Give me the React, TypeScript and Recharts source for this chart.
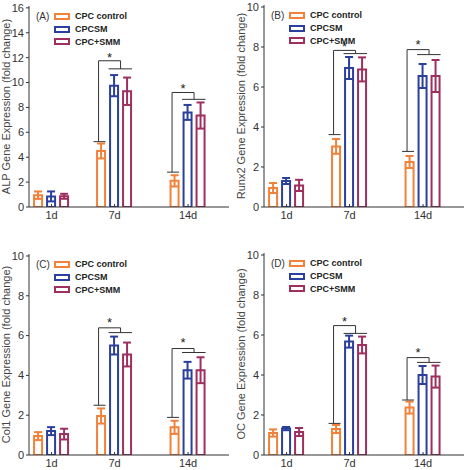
import React from "react";
import {
  ComposedChart, Bar, ErrorBar, XAxis, YAxis, ReferenceLine, ReferenceDot, Legend,
} from "recharts";

const days = [1, 7, 14];
const bracketDays = [7, 14];

// (A) ALP
const alpControl = [0.95, 4.5, 2.1];
const alpControlErr = [0.3, 0.6, 0.45];
const alpSM = [0.85, 9.75, 7.6];
const alpSMErr = [0.4, 0.85, 0.6];
const alpSMM = [0.86, 9.3, 7.35];
const alpSMMErr = [0.2, 1.1, 1.05];
const alpFoot = [5.25, 2.8];
const alpTop = [11.75, 9.2];
const alpGroup = [11.1, 8.65];
const alpStar = [12.05, 9.5];

// (B) Runx2
const runxControl = [0.95, 3.03, 2.25];
const runxControlErr = [0.25, 0.37, 0.3];
const runxSM = [1.3, 6.95, 6.55];
const runxSMErr = [0.15, 0.55, 0.6];
const runxSMM = [1.08, 6.88, 6.55];
const runxSMMErr = [0.28, 0.6, 0.8];
const runxFoot = [3.62, 2.78];
const runxTop = [7.83, 7.87];
const runxGroup = [7.67, 7.62];
const runxStar = [8.05, 8.15];

// (C) Col1
const colControl = [0.95, 1.96, 1.39];
const colControlErr = [0.2, 0.38, 0.33];
const colSM = [1.2, 5.5, 4.26];
const colSMErr = [0.2, 0.45, 0.42];
const colSMM = [1.05, 5.05, 4.26];
const colSMMErr = [0.27, 0.6, 0.65];
const colFoot = [2.5, 1.89];
const colTop = [6.39, 5.35];
const colGroup = [6.15, 5.15];
const colStar = [6.65, 5.65];

// (D) OC
const ocControl = [1.1, 1.3, 2.37];
const ocControlErr = [0.18, 0.2, 0.3];
const ocSM = [1.32, 5.67, 4.0];
const ocSMErr = [0.08, 0.3, 0.45];
const ocSMM = [1.15, 5.5, 3.92];
const ocSMMErr = [0.2, 0.42, 0.55];
const ocFoot = [1.58, 2.75];
const ocTop = [6.47, 4.87];
const ocGroup = [6.08, 4.63];
const ocStar = [6.7, 5.13];

const seriesNames = ["CPC control", "CPCSM", "CPC+SMM"];
const colors = ["#f2813a", "#2b3f9c", "#9e2f5f"];

const FONT = "'Liberation Sans', Arial, sans-serif";
const W = 234;
const H = 235;
const Y_AXIS_W = 29;
const MARGIN_R = 5;
const X_MIN = -1.15;
const X_MAX = 17.9;
const PX_PER_DAY = (W - Y_AXIS_W - MARGIN_R) / (X_MAX - X_MIN);
const dx = (px: number) => px / PX_PER_DAY;

const AxisLabel = ({ viewBox, value }: any) => {
  const cx = viewBox.x + 6;
  const cy = viewBox.y + viewBox.height / 2;
  return (
    <text x={cx} y={cy} transform={`rotate(-90 ${cx} ${cy})`} textAnchor="middle"
      dominantBaseline="central" fontSize={11} fill="#444" fontFamily={FONT}>
      {value}
    </text>
  );
};

function PanelLegend({ tag }: { tag: string }) {
  return (
    <div style={{ fontFamily: FONT, color: "#222" }}>
      {seriesNames.map((name, i) => (
        <div key={name} style={{ display: "flex", alignItems: "center", height: 12.8 }}>
          <span style={{ width: 18, fontSize: 10, color: "#333" }}>{i === 0 ? tag : ""}</span>
          <span style={{
            width: 16, height: 7, boxSizing: "border-box", border: `2px solid ${colors[i]}`, marginRight: 5,
          }} />
          <span style={{ fontSize: 9, fontWeight: "bold", whiteSpace: "nowrap" }}>{name}</span>
        </div>
      ))}
    </div>
  );
}

interface PanelProps {
  left: number; top: number; tag: string; label: string;
  yMax: number; yTicks: number[]; marginTop: number; xAxisH: number;
  ctrl: number[]; ctrlErr: number[]; sm: number[]; smErr: number[]; smm: number[]; smmErr: number[];
  foot: number[]; bTop: number[]; group: number[]; star: number[];
}

function Panel(p: PanelProps) {
  const data = days.map((d, i) => ({
    day: d,
    ctrl: p.ctrl[i], ctrlErr: p.ctrlErr[i],
    sm: p.sm[i], smErr: p.smErr[i],
    smm: p.smm[i], smmErr: p.smmErr[i],
  }));
  const line = { stroke: "#333", strokeWidth: 1 };
  const tickStyle = { fontSize: 11, fill: "#333", fontFamily: FONT };

  return (
    <div style={{ position: "absolute", left: p.left, top: p.top }}>
      <ComposedChart width={W} height={H} data={data} barGap={5}
        margin={{ top: p.marginTop, right: MARGIN_R, left: 0, bottom: 0 }}>
        <XAxis dataKey="day" type="number" domain={[X_MIN, X_MAX]} ticks={days} allowDataOverflow
          tickFormatter={(v) => `${v}d`} height={p.xAxisH} tick={tickStyle}
          tickSize={-3} tickMargin={7} axisLine={{ stroke: "#333" }} tickLine={{ stroke: "#333" }} />
        <XAxis xAxisId="top" orientation="top" type="number" domain={[X_MIN, X_MAX]} height={0}
          tick={false} tickLine={false} axisLine={{ stroke: "#333" }} />
        <YAxis type="number" domain={[0, p.yMax]} ticks={p.yTicks} allowDataOverflow width={Y_AXIS_W}
          tick={tickStyle} tickSize={3} tickMargin={2} axisLine={{ stroke: "#333" }} tickLine={{ stroke: "#333" }}
          label={<AxisLabel value={p.label} />} />
        <YAxis yAxisId="right" orientation="right" width={0} tick={false} tickLine={false}
          axisLine={{ stroke: "#333" }} />
        <Legend layout="vertical" align="center" verticalAlign="middle"
          wrapperStyle={{ left: 36, top: p.marginTop + 4, width: "auto" }}
          content={() => <PanelLegend tag={p.tag} />} />
        <Bar dataKey="ctrl" name={seriesNames[0]} fill="#fff" stroke={colors[0]} strokeWidth={2}
          barSize={8} isAnimationActive={false}>
          <ErrorBar dataKey="ctrlErr" width={4} stroke={colors[0]} strokeWidth={2} />
        </Bar>
        <Bar dataKey="sm" name={seriesNames[1]} fill="#fff" stroke={colors[1]} strokeWidth={2}
          barSize={8} isAnimationActive={false}>
          <ErrorBar dataKey="smErr" width={4} stroke={colors[1]} strokeWidth={2} />
        </Bar>
        <Bar dataKey="smm" name={seriesNames[2]} fill="#fff" stroke={colors[2]} strokeWidth={2}
          barSize={8} isAnimationActive={false}>
          <ErrorBar dataKey="smmErr" width={4} stroke={colors[2]} strokeWidth={2} />
        </Bar>
        {bracketDays.map((c, i) => [
          <ReferenceLine key={`f${i}`} {...line} segment={[{ x: c + dx(-21), y: p.foot[i] }, { x: c + dx(-9), y: p.foot[i] }]} />,
          <ReferenceLine key={`v${i}`} {...line} segment={[{ x: c + dx(-16), y: p.foot[i] }, { x: c + dx(-16), y: p.bTop[i] }]} />,
          <ReferenceLine key={`t${i}`} {...line} segment={[{ x: c + dx(-16), y: p.bTop[i] }, { x: c + dx(6), y: p.bTop[i] }]} />,
          <ReferenceLine key={`d${i}`} {...line} segment={[{ x: c + dx(6), y: p.bTop[i] }, { x: c + dx(6), y: p.group[i] }]} />,
          <ReferenceLine key={`g${i}`} {...line} segment={[{ x: c + dx(-6), y: p.group[i] }, { x: c + dx(17.5), y: p.group[i] }]} />,
          <ReferenceDot key={`s${i}`} x={c + dx(-5)} y={p.star[i]} r={0} fill="none" stroke="none"
            label={{ value: "*", position: "center", fontSize: 13, fill: "#222", fontFamily: FONT }} />,
        ])}
      </ComposedChart>
    </div>
  );
}

export default function App() {
  const ticks16 = [0, 2, 4, 6, 8, 10, 12, 14, 16];
  const ticks10 = [0, 2, 4, 6, 8, 10];
  return (
    <div style={{ position: "absolute", left: 0, top: 0, width: 469, height: 470, background: "#fff" }}>
      <Panel left={0} top={0} tag="(A)" label="ALP Gene Expression (fold change)"
        yMax={16.15} yTicks={ticks16} marginTop={6} xAxisH={28}
        ctrl={alpControl} ctrlErr={alpControlErr} sm={alpSM} smErr={alpSMErr} smm={alpSMM} smmErr={alpSMMErr}
        foot={alpFoot} bTop={alpTop} group={alpGroup} star={alpStar} />
      <Panel left={235} top={0} tag="(B)" label="Runx2 Gene Expression (fold change)"
        yMax={10.1} yTicks={ticks10} marginTop={5} xAxisH={28}
        ctrl={runxControl} ctrlErr={runxControlErr} sm={runxSM} smErr={runxSMErr} smm={runxSMM} smmErr={runxSMMErr}
        foot={runxFoot} bTop={runxTop} group={runxGroup} star={runxStar} />
      <Panel left={0} top={235} tag="(C)" label="Col1 Gene Expression (fold change)"
        yMax={10.1} yTicks={ticks10} marginTop={19} xAxisH={15}
        ctrl={colControl} ctrlErr={colControlErr} sm={colSM} smErr={colSMErr} smm={colSMM} smmErr={colSMMErr}
        foot={colFoot} bTop={colTop} group={colGroup} star={colStar} />
      <Panel left={235} top={235} tag="(D)" label="OC Gene Expression (fold change)"
        yMax={10.1} yTicks={ticks10} marginTop={18} xAxisH={15}
        ctrl={ocControl} ctrlErr={ocControlErr} sm={ocSM} smErr={ocSMErr} smm={ocSMM} smmErr={ocSMMErr}
        foot={ocFoot} bTop={ocTop} group={ocGroup} star={ocStar} />
    </div>
  );
}
